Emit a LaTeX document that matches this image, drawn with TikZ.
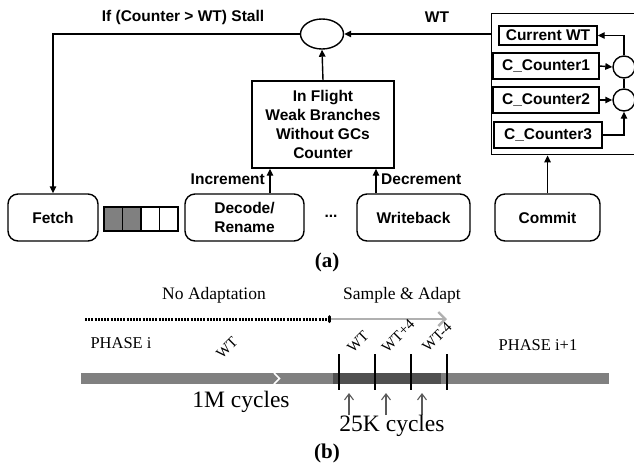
\documentclass[tikz,border=0pt]{standalone}
\usepackage{fontspec}
\setmainfont{Liberation Serif}
\setsansfont{Liberation Sans}
\usetikzlibrary{shapes.geometric,arrows.meta}
\definecolor{bargray}{RGB}{128,128,128}
\definecolor{bardark}{RGB}{80,80,80}
\definecolor{lightarr}{RGB}{176,176,176}
\definecolor{uparr}{RGB}{90,90,90}
\begin{document}
\begin{tikzpicture}[x=1pt,y=-1pt,
  lw/.style={line width=1.4pt},
  sanslbl/.style={font=\sffamily\bfseries\fontsize{15.5}{19}\selectfont, inner sep=0pt},
  stagebox/.style={draw, lw, rounded corners=10pt, minimum height=47pt, sanslbl, align=center},
  ctrbox/.style={draw, lw, sanslbl, minimum height=26pt},
  cell/.style={draw, lw, minimum width=18.5pt, minimum height=24pt, inner sep=0pt},
  circ/.style={draw, lw, circle, minimum size=22pt, inner sep=0pt},
  arr/.style={lw, -{Triangle[length=7pt,width=6.5pt]}},
  serif/.style={font=\rmfamily\fontsize{17.5}{20}\selectfont, inner sep=0pt},
  big/.style={font=\rmfamily\fontsize{23.5}{26}\selectfont, inner sep=0pt},
  rotlbl/.style={font=\rmfamily\fontsize{15}{15}\selectfont, inner sep=0pt, rotate=45},
  caption/.style={font=\rmfamily\bfseries\fontsize{21}{24}\selectfont, inner sep=0pt},
  uparrow/.style={draw=uparr, line width=1.1pt, -{Straight Barb[length=6pt,width=9pt]}}
]
\path[use as bounding box, clip] (0,0) rectangle (634,475);
\fill[white] (0,0) rectangle (634,475);

% ---------- part (a) ----------
\node[sanslbl] (stall) at (183,17) {If (Counter > WT) Stall};
\node[sanslbl] (wtl) at (437,17) {WT};
\node[draw, lw, shape=ellipse, minimum width=43pt, minimum height=30pt, inner sep=0pt] (cmp) at (322,34) {};

\node[draw, lw, minimum width=142pt, minimum height=87pt, sanslbl, align=center] (flight) at (323,124.5)
  {In Flight\\Weak Branches\\Without GCs\\Counter};

\node[draw, lw, anchor=north west, minimum width=160pt, minimum height=141pt] (wtbox) at (491,13) {};
\node[draw, lw, sanslbl, minimum width=98pt, minimum height=19pt] (cur) at (548,35.5) {Current WT};
\node[ctrbox, minimum width=106pt] (cc1) at (546,66) {C\_Counter1};
\node[ctrbox, minimum width=106pt] (cc2) at (546,100) {C\_Counter2};
\node[ctrbox, minimum width=108pt] (cc3) at (548,135) {C\_Counter3};
\node[circ] (c1) at (624,67) {};
\node[circ] (c2) at (624,100) {};

\node[stagebox, minimum width=90pt] (fetch) at (53,217.5) {Fetch};
\node[stagebox, minimum width=119pt] (dec) at (244.5,217.5) {Decode/\\Rename};
\node[sanslbl] (dots) at (331,216) {...};
\node[stagebox, minimum width=113pt] (wb) at (413.5,217.5) {Writeback};
\node[stagebox, minimum width=105pt] (commit) at (547.5,217.5) {Commit};

\node[cell, fill=bargray] (q1) at (113.25,219) {};
\node[cell, fill=bargray] (q2) at (131.75,219) {};
\node[cell] (q3) at (150.25,219) {};
\node[cell] (q4) at (168.75,219) {};

\coordinate (incx) at (270,0);
\coordinate (decx) at (376,0);
\node[sanslbl, anchor=east] (inc) at (265,179) {Increment};
\node[sanslbl, anchor=west] (decl) at (381,179) {Decrement};

\draw[arr] (cmp.west) -| (fetch.north);
\draw[arr] (cmp -| wtbox.west) -- (cmp.east);
\draw[arr] (flight.north) -- (cmp.south);
\draw[arr] (dec.north -| incx) -- (flight.south -| incx);
\draw[arr] (wb.north -| decx) -- (flight.south -| decx);
\draw[arr] (commit.north) -- (commit.north |- wtbox.south);
\draw[arr] (cc1.east) -- (c1.west);
\draw[arr] (cc2.east) -- (c2.west);
\draw[arr] (cc3.east) -| (c2.south);
\draw[arr] (c1.north) |- (cur.east);
\draw[lw] (c1.south) -- (c2.north);

\node[caption] (capa) at (327,262) {(a)};

% ---------- part (b) ----------
\node[serif] (noad) at (214,295) {No Adaptation};
\node[serif] (samp) at (402,295) {Sample \& Adapt};
\coordinate (dotstart) at (85,319);
\coordinate (dotend) at (331,319);
\coordinate (greyend) at (447,319);
\draw[line width=3pt, dash pattern=on 2pt off 1.2pt, -{To[length=3pt,width=8pt]}] (dotstart) -- (dotend);
\draw[draw=lightarr, line width=2.4pt, -{Straight Barb[length=7pt,width=14pt]}] (dotend) -- (greyend);

\node[serif, font=\rmfamily\fontsize{16.5}{18}\selectfont] (ph1) at (121,343) {PHASE i};
\node[serif, font=\rmfamily\fontsize{16.5}{18}\selectfont] (ph2) at (538,345) {PHASE i+1};

\fill[bargray] (81,373) rectangle (609,384);
\fill[bardark] (333,373) rectangle (441,384);
\draw[white, line width=1.6pt] (274,373) -- (279.5,378.5) -- (274,384);

\foreach \t in {339,375,411,447} \draw[line width=1.6pt] (\t,354) -- (\t,390);

\node[rotlbl] (wt0) at (227,348) {WT};
\node[rotlbl] (wt1) at (358,342) {WT};
\node[rotlbl] (wt2) at (398,336) {WT+4};
\node[rotlbl] (wt3) at (437,337) {WT-4};

\foreach \a in {349,386,422} \draw[uparrow] (\a,415) -- (\a,393);

\node[big] (m1) at (241,402) {1M cycles};
\node[big] (k25) at (392,426) {25K cycles};
\node[caption] (capb) at (327,453) {(b)};
\end{tikzpicture}
\end{document}
